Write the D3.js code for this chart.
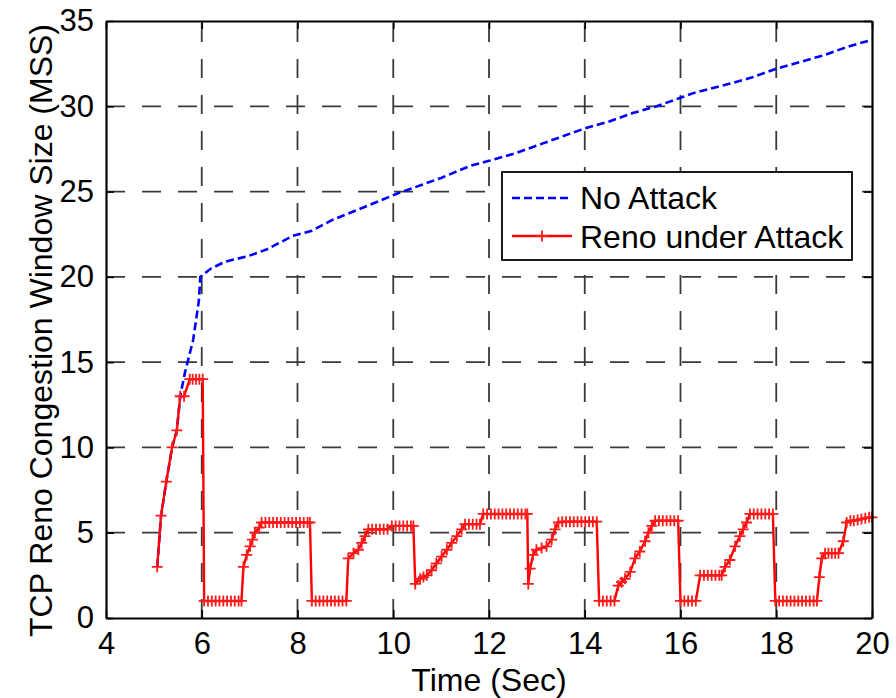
<!DOCTYPE html>
<html>
<head>
<meta charset="utf-8">
<script src="https://cdn.jsdelivr.net/npm/d3@7"></script>
<style>
  html, body { margin: 0; padding: 0; background: #fff; }
  svg { display: block; }
  text { font-family: "Liberation Sans", Arial, Helvetica, sans-serif; fill: #000; }
</style>
</head>
<body>
<svg id="chart" width="896" height="698"></svg>
<script>
// ---- data ----
const xTicks = [4, 6, 8, 10, 12, 14, 16, 18, 20];
const yTicks = [0, 5, 10, 15, 20, 25, 30, 35];
const xLabel = "Time (Sec)";
const yLabel = "TCP Reno Congestion Window Size (MSS)";
const seriesNames = ["No Attack", "Reno under Attack"];

const noAttackTime = [5.07, 5.15, 5.26, 5.38, 5.48, 5.55, 5.65, 5.82, 5.94, 5.97, 6.2, 6.5, 6.95, 7.35, 7.9, 8.3, 8.7, 9.4, 10.1, 10.6, 11.0, 11.6, 12.0, 12.5, 13.0, 13.5, 14.0, 14.5, 15.0, 15.5, 16.0, 16.3, 17.0, 17.5, 18.0, 18.5, 19.0, 19.5, 20.0];
const noAttackCwnd = [3, 6, 8, 10, 11, 13, 14.4, 16.3, 18.6, 20, 20.5, 20.9, 21.2, 21.6, 22.4, 22.7, 23.3, 24.1, 24.9, 25.4, 25.8, 26.5, 26.8, 27.2, 27.7, 28.2, 28.7, 29.1, 29.6, 30.0, 30.5, 30.8, 31.3, 31.7, 32.2, 32.6, 33.0, 33.5, 33.9];

const attackTime = [5.07,5.15,5.26,5.38,5.48,5.55,5.63,5.75,5.81,5.88,5.95,6.02,
6.05,6.13,6.21,6.29,6.37,6.45,6.53,6.61,6.69,6.77,6.83,
6.87,6.94,7.01,7.06,7.11,7.20,7.25,
7.33,7.41,7.49,7.57,7.65,7.73,7.81,7.89,7.97,8.05,8.13,8.21,8.26,
8.30,8.38,8.46,8.54,8.62,8.70,8.78,8.86,8.94,9.02,
9.06,9.17,9.27,9.34,9.41,9.48,9.56,9.64,9.72,9.80,9.88,9.97,10.05,10.13,10.21,10.29,10.37,10.42,
10.46,10.56,10.63,10.70,10.80,10.90,11.01,11.12,11.22,11.33,11.43,11.50,11.58,11.66,11.74,11.81,
11.88,11.96,12.04,12.12,12.20,12.28,12.36,12.44,12.52,12.60,12.68,12.76,12.80,
12.82,12.86,12.92,12.99,13.10,13.20,13.31,13.38,13.45,13.53,13.61,13.69,13.77,13.85,13.93,14.01,14.09,14.17,14.25,
14.30,14.38,14.46,14.54,14.62,
14.70,14.77,14.84,14.95,15.05,15.15,15.26,15.33,15.40,15.47,15.55,15.63,15.71,15.79,15.87,15.95,
16.00,16.08,16.16,16.24,16.32,
16.41,16.49,16.57,16.65,16.73,16.81,16.86,
16.93,17.03,17.14,17.24,17.31,17.38,17.45,17.53,17.61,17.69,17.77,17.85,17.93,
17.98,18.06,18.14,18.22,18.30,18.38,18.46,18.54,18.62,18.70,18.78,18.85,
18.90,18.95,19.02,19.09,19.16,19.23,19.30,19.40,19.47,19.55,19.62,19.70,19.78,19.86,19.94,20.00];
const attackCwnd = [3,6,8,10,11,13,13,14,14,14,14,14,
1,1,1,1,1,1,1,1,1,1,1,
3,3.7,4.2,4.6,5.0,5.3,5.6,
5.6,5.6,5.6,5.6,5.6,5.6,5.6,5.6,5.6,5.6,5.6,5.6,5.6,
1,1,1,1,1,1,1,1,1,1,
3.5,3.8,4.0,4.4,4.8,5.2,5.2,5.2,5.2,5.2,5.2,5.4,5.4,5.4,5.4,5.4,5.4,5.4,
2,2.3,2.4,2.5,2.8,3.2,3.6,4.0,4.4,4.8,5.2,5.5,5.5,5.5,5.5,5.5,
6.1,6.1,6.1,6.1,6.1,6.1,6.1,6.1,6.1,6.1,6.1,6.1,6.1,
2,2.9,3.7,4.0,4.1,4.2,4.6,5.2,5.6,5.65,5.65,5.65,5.65,5.65,5.65,5.65,5.65,5.65,5.65,
1,1,1,1,1,
1.9,2.1,2.3,2.7,3.5,3.9,4.5,5.0,5.4,5.7,5.7,5.7,5.7,5.7,5.7,5.7,
1,1,1,1,1,
2.5,2.5,2.5,2.5,2.5,2.5,2.5,
3.0,3.4,4.2,4.8,5.2,5.6,6.1,6.1,6.1,6.1,6.1,6.1,6.1,
1,1,1,1,1,1,1,1,1,1,1,1,
2.4,3.5,3.8,3.8,3.8,3.8,3.8,4.5,5.6,5.7,5.7,5.75,5.8,5.85,5.9,5.9];

// ---- layout ----
const svg = d3.select("#chart");
const L = 106, R = 872, T = 21, B = 618;
const x = d3.scaleLinear().domain([4, 20]).range([L, R]);
const y = d3.scaleLinear().domain([0, 35]).range([B, T]);
const FS_TICK = 31, FS_LABEL = 32, FS_LEG = 32;

// grid
const grid = svg.append("g").attr("stroke", "#3a3a3a").attr("stroke-width", 1.8).attr("stroke-dasharray", "19,17");
grid.selectAll("line.vx").data(xTicks.slice(1, -1)).join("line")
  .attr("x1", d => x(d)).attr("x2", d => x(d)).attr("y1", B).attr("y2", T);
grid.selectAll("line.hy").data(yTicks.slice(1, -1)).join("line")
  .attr("y1", d => y(d)).attr("y2", d => y(d)).attr("x1", L).attr("x2", R);

// series
const blueData = d3.zip(noAttackTime, noAttackCwnd);
const redData = d3.zip(attackTime, attackCwnd);
const line = d3.line().x(d => x(d[0])).y(d => y(d[1]));

svg.append("path").datum(blueData).attr("d", line)
  .attr("fill", "none").attr("stroke", "#0000ff").attr("stroke-width", 2.6)
  .attr("stroke-dasharray", "8,4");

svg.append("path").datum(redData).attr("d", line)
  .attr("fill", "none").attr("stroke", "#ff0000").attr("stroke-width", 2.4);

const plus = (cx, cy, s) => `M${cx - s},${cy}H${cx + s}M${cx},${cy - s}V${cy + s}`;
svg.append("g").selectAll("path").data(redData).join("path")
  .attr("d", d => plus(x(d[0]), y(d[1]), 5.5))
  .attr("stroke", "#ff1a1a").attr("stroke-width", 1.8).attr("fill", "none");

// axes (MATLAB-like box with inward ticks)
const tickLen = 8;
const xAxisB = d3.axisBottom(x).tickValues(xTicks).tickSizeInner(-tickLen).tickSizeOuter(0).tickPadding(14).tickFormat(d3.format("d"));
const xAxisT = d3.axisTop(x).tickValues(xTicks).tickSizeInner(-tickLen).tickSizeOuter(0).tickFormat("");
const yAxisL = d3.axisLeft(y).tickValues(yTicks).tickSizeInner(-tickLen).tickSizeOuter(0).tickPadding(12).tickFormat(d3.format("d"));
const yAxisR = d3.axisRight(y).tickValues(yTicks).tickSizeInner(-tickLen).tickSizeOuter(0).tickFormat("");

function style(g) {
  g.select(".domain").attr("stroke", "#000").attr("stroke-width", 2.2);
  g.selectAll(".tick line").attr("stroke", "#000").attr("stroke-width", 1.6);
  g.selectAll(".tick text").attr("font-size", FS_TICK).attr("font-family", '"Liberation Sans", Arial, sans-serif').attr("fill", "#000");
}
svg.append("g").attr("transform", `translate(0,${B})`).call(xAxisB).call(style);
svg.append("g").attr("transform", `translate(0,${T})`).call(xAxisT).call(style);
svg.append("g").attr("transform", `translate(${L},0)`).call(yAxisL).call(style);
svg.append("g").attr("transform", `translate(${R},0)`).call(yAxisR).call(style);

// axis labels
svg.append("text").attr("x", (L + R) / 2).attr("y", 691).attr("text-anchor", "middle")
  .attr("font-size", FS_LABEL).text(xLabel);
svg.append("text").attr("transform", `translate(52,${(T + B) / 2 + 11}) rotate(-90)`)
  .attr("text-anchor", "middle").attr("font-size", FS_LABEL).text(yLabel);

// legend
const lg = svg.append("g").attr("transform", "translate(502,172)");
lg.append("rect").attr("width", 350).attr("height", 88).attr("fill", "#fff")
  .attr("stroke", "#000").attr("stroke-width", 1.8);
lg.append("line").attr("x1", 10).attr("x2", 68).attr("y1", 26).attr("y2", 26)
  .attr("stroke", "#0000ff").attr("stroke-width", 2.6).attr("stroke-dasharray", "8,4");
lg.append("line").attr("x1", 10).attr("x2", 70).attr("y1", 64).attr("y2", 64)
  .attr("stroke", "#ff0000").attr("stroke-width", 2.4);
lg.append("path").attr("d", plus(40, 64, 5.5)).attr("stroke", "#ff1a1a").attr("stroke-width", 1.8);
lg.append("text").attr("x", 78).attr("y", 37).attr("font-size", FS_LEG).text(seriesNames[0]);
lg.append("text").attr("x", 78).attr("y", 76).attr("font-size", FS_LEG).text(seriesNames[1]);
</script>
</body>
</html>
